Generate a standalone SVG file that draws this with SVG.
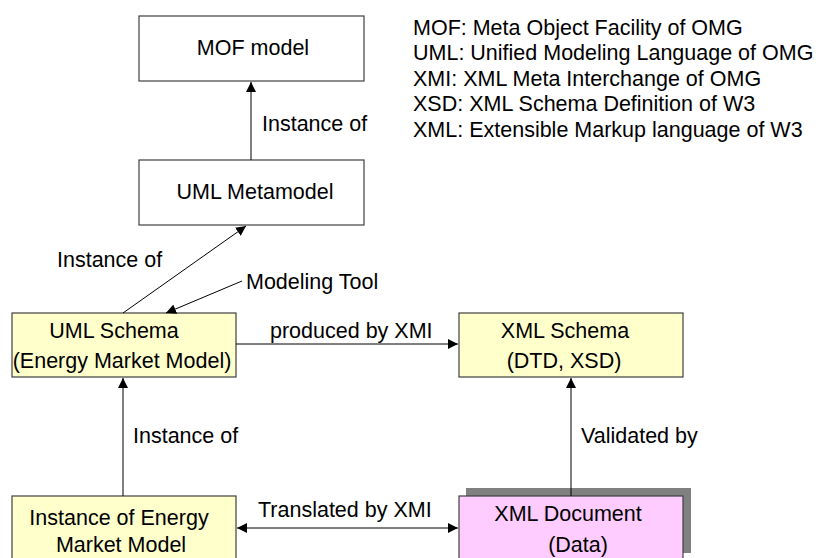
<svg xmlns="http://www.w3.org/2000/svg" width="816" height="558" viewBox="0 0 816 558">
<defs>
<style>
text{font-family:"Liberation Sans",Arial,sans-serif;font-size:21.5px;fill:#000}
.box{stroke:#404040;stroke-width:1.2}
.w{fill:#fff}
.y{fill:#ffffcc}
.p{fill:#ffccff}
.c{stroke:#000;stroke-width:1;fill:none}
.m{text-anchor:middle}
</style>
<marker id="ah" viewBox="0 0 10 10" refX="10" refY="5" markerWidth="10" markerHeight="10" markerUnits="userSpaceOnUse" orient="auto-start-reverse">
<path d="M0,0 L10,5 L0,10 z" fill="#000"/>
</marker>
</defs>
<rect width="816" height="558" fill="#fff"/>
<g id="legend">
<text x="413" y="35">MOF: Meta Object Facility of OMG</text>
<text x="413" y="60">UML: Unified Modeling Language of OMG</text>
<text x="413" y="86">XMI: XML Meta Interchange of OMG</text>
<text x="413" y="111">XSD: XML Schema Definition of W3</text>
<text x="413" y="137">XML: Extensible Markup language of W3</text>
</g>
<g id="mof">
<rect class="box w" x="139" y="16" width="225" height="65"/>
<text class="m" x="253" y="55">MOF model</text>
</g>
<g id="umlmeta">
<rect class="box w" x="139" y="160" width="225" height="65"/>
<text class="m" x="255" y="199">UML Metamodel</text>
</g>
<g id="umlschema">
<rect class="box y" x="12" y="313" width="224" height="64"/>
<text class="m" x="114" y="338">UML Schema</text>
<text class="m" x="122" y="368">(Energy Market Model)</text>
</g>
<g id="xmlschema">
<rect class="box y" x="459" y="313" width="224" height="64"/>
<text class="m" x="565" y="338">XML Schema</text>
<text class="m" x="564" y="368">(DTD, XSD)</text>
</g>
<g id="instance">
<rect class="box y" x="12" y="496" width="224" height="70"/>
<text class="m" x="119" y="525">Instance of Energy</text>
<text class="m" x="121" y="552">Market Model</text>
</g>
<g id="xmldoc">
<rect x="466" y="488" width="225" height="65" fill="#808080"/>
<rect class="box p" x="459" y="496" width="224" height="70"/>
<text class="m" x="568" y="521">XML Document</text>
<text class="m" x="578" y="552">(Data)</text>
</g>
<g id="connectors">
<line class="c" x1="251" y1="160" x2="251" y2="82" marker-end="url(#ah)"/>
<line class="c" x1="123" y1="313" x2="246" y2="226" marker-end="url(#ah)"/>
<line class="c" x1="242" y1="281" x2="166" y2="313" marker-end="url(#ah)"/>
<line class="c" x1="236" y1="344" x2="458" y2="344" marker-end="url(#ah)"/>
<line class="c" x1="123" y1="496" x2="123" y2="378" marker-end="url(#ah)"/>
<line class="c" x1="571" y1="496" x2="571" y2="378" marker-end="url(#ah)"/>
<line class="c" x1="237" y1="528" x2="458" y2="528" marker-start="url(#ah)" marker-end="url(#ah)"/>
<text x="262" y="131">Instance of</text>
<text x="57" y="267">Instance of</text>
<text x="246" y="289">Modeling Tool</text>
<text x="270" y="338">produced by XMI</text>
<text x="133" y="443">Instance of</text>
<text x="581" y="443">Validated by</text>
<text x="258" y="517">Translated by XMI</text>
</g>
</svg>
